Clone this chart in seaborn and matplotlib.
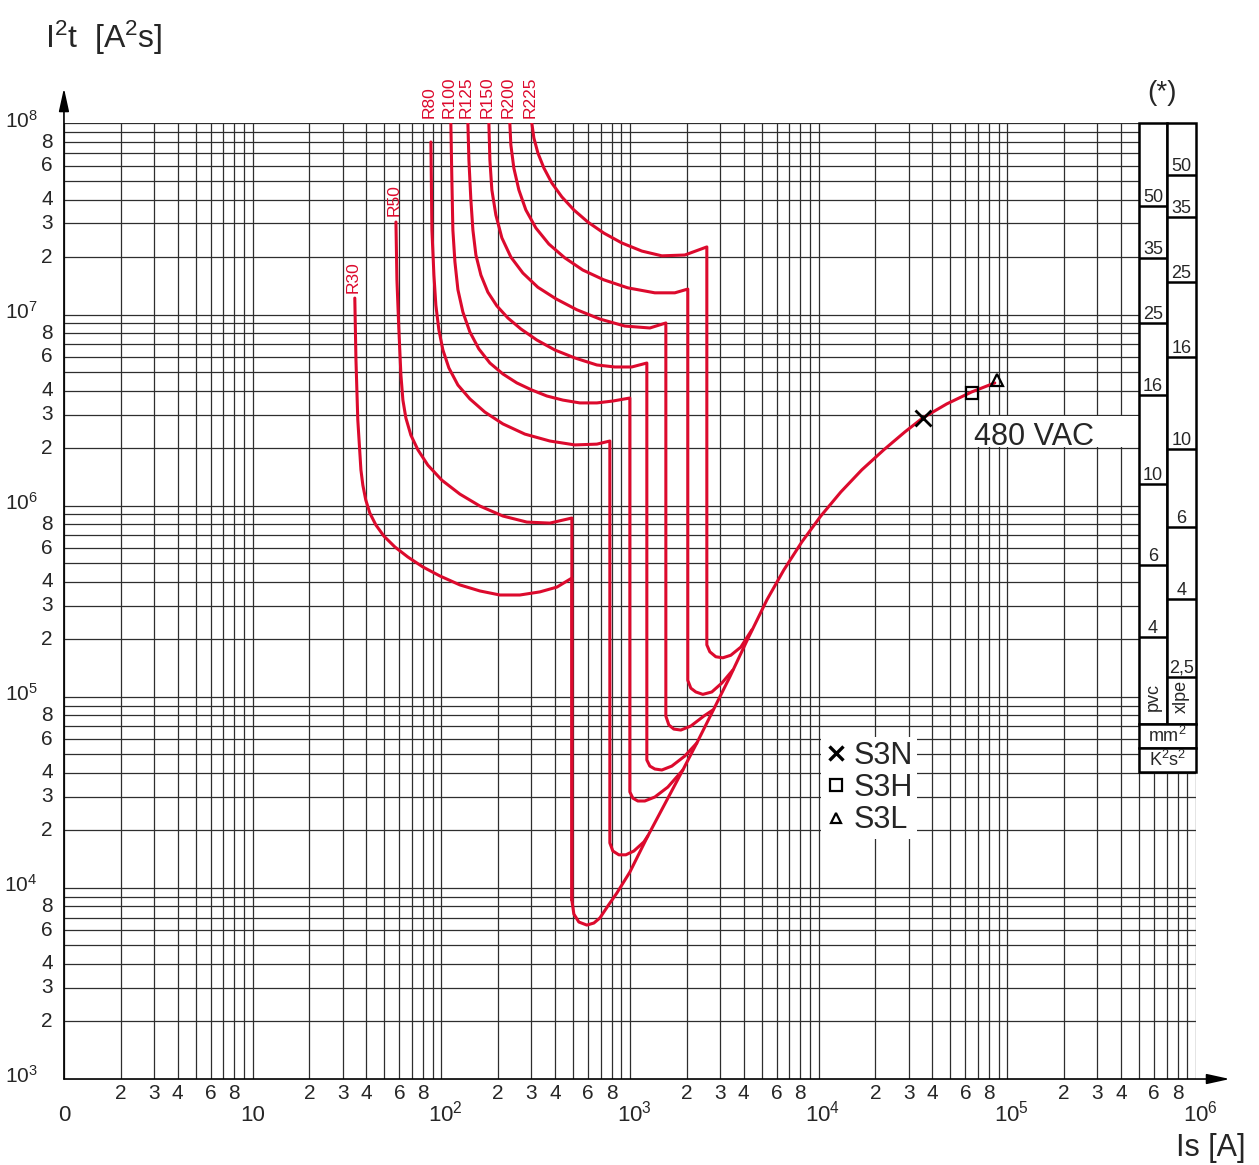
import matplotlib
matplotlib.use("Agg")
import matplotlib.pyplot as plt
from matplotlib.lines import Line2D
from matplotlib.patches import Rectangle
from matplotlib.ticker import LogLocator, NullFormatter
import numpy as np
import pandas as pd
import seaborn as sns

r30_x = [34.8, 35.3, 36.1, 37.5, 38.4, 39.8, 41.8, 45.0, 49.6, 56.8, 66.5, 79.9, 98.3, 125.5, 160.2, 204.4,
         261.0, 333.1, 410.0, 492.1, 492.1]
r30_y = [1.22e7, 5.79e6, 2.81e6, 1.54e6, 1.28e6, 1.07e6, 9.16e5, 7.93e5, 6.94e5, 6.08e5, 5.39e5, 4.78e5, 4.29e5,
         3.85e5, 3.58e5, 3.41e5, 3.41e5, 3.54e5, 3.75e5, 4.18e5, 8.65e3]

r50_x = [57.5, 58.2, 59.6, 61.1, 62.6, 64.9, 69.0, 75.2, 84.9, 100.7, 125.5, 160.2, 212.1, 284.2, 376.3, 492.1, 492.1]
r50_y = [3.05e7, 1.52e7, 8.31e6, 4.83e6, 3.57e6, 2.88e6, 2.34e6, 1.96e6, 1.63e6, 1.36e6, 1.15e6, 9.96e5, 8.83e5,
         8.21e5, 8.11e5, 8.62e5, 8.65e3]

r80_x = [88.1, 89.2, 91.4, 93.6, 97.1, 102.0, 109.7, 122.5, 141.8, 170.2, 212.1, 277.3, 376.3, 510.5, 667.9, 782.5,
         782.5, 811.7, 873.5, 951.3, 1049, 1185, 1244]
r80_y = [8.00e7, 2.77e7, 1.61e7, 1.12e7, 8.31e6, 6.53e6, 5.26e6, 4.28e6, 3.62e6, 3.09e6, 2.68e6, 2.37e6, 2.18e6,
         2.08e6, 2.10e6, 2.18e6, 1.72e4, 1.56e4, 1.49e4, 1.49e4, 1.56e4, 1.74e4, 1.87e4]

r100_x = [112.4, 113.8, 115.2, 118.1, 122.5, 130.2, 141.8, 158.2, 181.0, 212.1, 251.5, 302.1, 362.8, 441.0, 542.7,
          667.9, 811.7, 998.8, 998.8, 1036, 1101, 1199, 1355, 1588, 1907]
r100_y = [1.0e8, 5.06e7, 2.77e7, 1.89e7, 1.35e7, 1.03e7, 8.11e6, 6.61e6, 5.58e6, 4.89e6, 4.39e6, 4.03e6, 3.75e6,
          3.57e6, 3.45e6, 3.45e6, 3.53e6, 3.66e6, 3.18e4, 2.95e4, 2.85e4, 2.85e4, 2.99e4, 3.37e4, 4.14e4]

r125_x = [138.4, 140.1, 143.5, 147.1, 152.6, 162.2, 176.6, 197.1, 225.4, 264.2, 321.1, 399.9, 510.5, 667.9, 831.8,
          1023, 1229, 1229, 1275, 1355, 1476, 1667, 1954, 2262]
r125_y = [1.0e8, 6.44e7, 3.98e7, 2.77e7, 2.05e7, 1.61e7, 1.31e7, 1.11e7, 9.60e6, 8.41e6, 7.36e6, 6.53e6, 5.93e6,
          5.45e6, 5.32e6, 5.32e6, 5.58e6, 4.67e4, 4.34e4, 4.19e4, 4.14e4, 4.34e4, 4.90e4, 5.73e4]

r150_x = [178.8, 181.0, 185.4, 194.7, 209.5, 233.8, 270.7, 325.1, 404.9, 523.1, 692.7, 939.7, 1275, 1550,
          1550, 1608, 1708, 1861, 2102, 2464, 2750]
r150_y = [1.0e8, 6.44e7, 4.49e7, 3.32e7, 2.52e7, 2.00e7, 1.65e7, 1.39e7, 1.21e7, 1.06e7, 9.48e6, 8.71e6, 8.51e6,
          9.04e6, 7.93e4, 7.12e4, 6.78e4, 6.70e4, 7.03e4, 7.93e4, 8.53e4]

r200_x = [230.9, 233.8, 242.4, 257.8, 280.7, 317.2, 371.7, 451.9, 562.9, 727.3, 974.8, 1355, 1730, 2026,
          2026, 2102, 2235, 2434, 2716, 3069, 3510]
r200_y = [1.0e8, 7.72e7, 5.85e7, 4.49e7, 3.53e7, 2.84e7, 2.34e7, 1.98e7, 1.71e7, 1.52e7, 1.38e7, 1.30e7, 1.30e7,
          1.36e7, 1.22e5, 1.11e5, 1.06e5, 1.03e5, 1.06e5, 1.18e5, 1.38e5]

r225_x = [302.1, 309.6, 325.1, 349.8, 385.5, 435.6, 504.3, 598.3, 727.3, 906.0, 1156, 1476, 1954, 2556,
          2556, 2651, 2852, 3107, 3425, 3870, 4426]
r225_y = [1.0e8, 8.40e7, 7.01e7, 5.85e7, 4.88e7, 4.13e7, 3.53e7, 3.05e7, 2.67e7, 2.37e7, 2.15e7, 2.03e7, 2.05e7,
          2.26e7, 1.87e5, 1.72e5, 1.62e5, 1.60e5, 1.65e5, 1.82e5, 2.24e5]

# S3 let-through curve at 480 VAC
vac_x = [492.1, 504.3, 536.0, 591.0, 643.9, 692.7, 763.6, 852.2, 998.8, 1244, 1569, 1907, 2262, 2750, 3383, 4164,
         5316, 6540, 8147, 10270, 13120, 16940, 22150, 28630, 35660, 47800, 64850, 85870]
vac_y = [8.65e3, 7.30e3, 6.63e3, 6.39e3, 6.55e3, 6.96e3, 8.04e3, 9.40e3, 1.21e4, 1.87e4, 2.88e4, 4.14e4, 5.73e4,
         8.43e4, 1.27e5, 1.96e5, 3.21e5, 4.61e5, 6.46e5, 8.83e5, 1.18e6, 1.54e6, 1.96e6, 2.43e6, 2.88e6, 3.41e6,
         3.94e6, 4.39e6]

# breaking capacity points
brk_names = ['S3N', 'S3H', 'S3L']
brk_x = [35660, 64850, 88000]
brk_y = [2.88e6, 3.89e6, 4.55e6]

# cable table (*) : K2S2 limits
pvc_sizes = ['50', '35', '25', '16', '10', '6', '4']
pvc_k2s2 = [3.70e7, 1.98e7, 9.04e6, 3.80e6, 1.30e6, 4.89e5, 2.06e5]
xlpe_sizes = ['50', '35', '25', '16', '10', '6', '4', '2,5']
xlpe_k2s2 = [5.38e7, 3.24e7, 1.48e7, 6.00e6, 1.98e6, 7.73e5, 3.25e5, 1.27e5]

curves = {'R30': (r30_x, r30_y), 'R50': (r50_x, r50_y), 'R80': (r80_x, r80_y),
          'R100': (r100_x, r100_y), 'R125': (r125_x, r125_y), 'R150': (r150_x, r150_y),
          'R200': (r200_x, r200_y), 'R225': (r225_x, r225_y), '480VAC': (vac_x, vac_y)}

sns.set_style("white")
plt.rcParams['font.family'] = ['Liberation Sans', 'DejaVu Sans']
plt.rcParams['mathtext.fontset'] = 'custom'
plt.rcParams['mathtext.rm'] = 'Liberation Sans'
plt.rcParams['mathtext.it'] = 'Liberation Sans:italic'
plt.rcParams['mathtext.bf'] = 'Liberation Sans:bold'

RED = '#DC0A2D'
GRID = '#2e2e2e'

fig = plt.figure(figsize=(12.59, 11.65), dpi=100)
ax = fig.add_axes([0.0508, 0.0738, 0.8991, 0.8202])
ax.set_xscale('log')
ax.set_yscale('log')
ax.set_xlim(1, 1e6)
ax.set_ylim(1e3, 1e8)

for axis in (ax.xaxis, ax.yaxis):
    axis.set_major_locator(LogLocator(base=10, numticks=20))
    axis.set_minor_locator(LogLocator(base=10, subs=np.arange(2, 10), numticks=200))
    axis.set_major_formatter(NullFormatter())
    axis.set_minor_formatter(NullFormatter())
ax.grid(True, which='both', color=GRID, lw=0.9)
ax.set_axisbelow(True)
ax.tick_params(which='minor', length=0)
ax.tick_params(axis='x', which='major', length=11, width=1, direction='out', color='black')
ax.tick_params(axis='y', which='major', length=10, width=1, direction='out', color='black')
for s in ax.spines.values():
    s.set_visible(False)

# axes with arrows
arrow = dict(arrowstyle='-|>,head_length=1.0,head_width=0.22', color='black', lw=1.2,
             mutation_scale=14, shrinkA=0, shrinkB=0)
ax.annotate('', xy=(0, 1.037), xytext=(0, 0), xycoords='axes fraction', arrowprops=arrow, annotation_clip=False)
ax.annotate('', xy=(1.030, 0), xytext=(0, 0), xycoords='axes fraction', arrowprops=arrow, annotation_clip=False)

# tick labels
for e in range(0, 7):
    if e == 0:
        lbl, dx = '0', 0
    elif e == 1:
        lbl, dx = '10', 0
    else:
        lbl, dx = r'$\mathregular{10^{%d}}$' % e, 3
    ax.annotate(lbl, xy=(10 ** e, -0.044), xycoords=('data', 'axes fraction'), xytext=(dx, 0),
                textcoords='offset points', ha='center', va='baseline', fontsize=16, annotation_clip=False)
    if e < 6:
        for m in [2, 3, 4, 6, 8]:
            ax.annotate(str(m), xy=(m * 10 ** e, -0.021), xycoords=('data', 'axes fraction'),
                        ha='center', va='baseline', fontsize=15, annotation_clip=False)

for e in range(3, 9):
    ax.annotate(r'$\mathregular{10^{%d}}$' % e, xy=(0, 10 ** e), xycoords=('axes fraction', 'data'),
                xytext=(-19, -3), textcoords='offset points', ha='right', va='baseline', fontsize=15,
                annotation_clip=False)
    if e < 8:
        for m in [2, 3, 4, 6, 8]:
            ax.annotate(str(m), xy=(0, m * 10 ** e), xycoords=('axes fraction', 'data'), xytext=(-8, 0),
                        textcoords='offset points', ha='right', va='center', fontsize=15, annotation_clip=False)

# red curves
frames = []
for name, (xs, ys) in curves.items():
    frames.append(pd.DataFrame({'curve': name, 'Is': xs, 'I2t': ys}))
df = pd.concat(frames, ignore_index=True)
sns.lineplot(data=df, x='Is', y='I2t', units='curve', estimator=None, sort=False,
             color=RED, lw=2.2, ax=ax, legend=False)
for ln in ax.lines:
    ln.set_solid_joinstyle('round')
    ln.set_zorder(3)
ax.set_xlabel('')
ax.set_ylabel('')

for name, (xs, ys) in curves.items():
    if not name.startswith('R'):
        continue
    ytop = ys[0] if ys[0] < 5e7 else 1e8
    ax.annotate(name, xy=(xs[0], ytop), xytext=(-1, 4), textcoords='offset points', rotation=90,
                ha='center', va='bottom', color=RED, fontsize=12.5, annotation_clip=False)

# breaking capacity markers
mk = {'S3N': dict(marker='x', ms=12, mew=2.0), 'S3H': dict(marker='s', ms=9, mew=1.6),
      'S3L': dict(marker='^', ms=8, mew=1.6)}
for n, x, y in zip(brk_names, brk_x, brk_y):
    ax.plot([x], [y], ls='none', color='black', mfc='none', zorder=6, **mk[n])

# 480 VAC label
ax.add_patch(Rectangle((6.1e4, 2.04e6), 5e5 - 6.1e4, 2.95e6 - 2.04e6, fc='white', ec='none', zorder=2))
ax.text(6.7e4, 2.08e6, '480 VAC', fontsize=22, ha='left', va='baseline', zorder=4)

# legend
lmk = {'S3N': dict(marker='x', ms=10, mew=2.4), 'S3H': dict(marker='s', ms=8, mew=1.6),
       'S3L': dict(marker='^', ms=7, mew=1.6)}
handles = [Line2D([], [], ls='none', color='black', mfc='none', **lmk[n]) for n in brk_names]
ax.legend(handles, brk_names, loc='upper left', bbox_to_anchor=(0.6690, 0.358), fontsize=22,
          frameon=True, fancybox=False, framealpha=1, facecolor='white', edgecolor='none',
          handlelength=0.7, handletextpad=0.25, labelspacing=0.08, borderpad=0.12, borderaxespad=0)

# cable table
x0, x1, x2 = 5e5, 7e5, 1e6
ytop, ymid, yrow, ybot = 1e8, 7.21e4, 5.40e4, 4.04e4
lwt = 1.8
for (xa, xb) in [(x0, x1), (x1, x2)]:
    ax.add_patch(Rectangle((xa, ymid), xb - xa, ytop - ymid, fc='white', ec='black', lw=lwt, zorder=4, clip_on=False))
ax.add_patch(Rectangle((x0, yrow), x2 - x0, ymid - yrow, fc='white', ec='black', lw=lwt, zorder=4, clip_on=False))
ax.add_patch(Rectangle((x0, ybot), x2 - x0, yrow - ybot, fc='white', ec='black', lw=lwt, zorder=4, clip_on=False))
cpvc = np.sqrt(x0 * x1)
cxl = np.sqrt(x1 * x2)
ax.hlines(pvc_k2s2, x0, x1, color='black', lw=lwt, zorder=5)
ax.hlines(xlpe_k2s2, x1, x2, color='black', lw=lwt, zorder=5)
for s, v in zip(pvc_sizes, pvc_k2s2):
    ax.annotate(s, xy=(cpvc, v), xytext=(0, 3), textcoords='offset points', ha='center', va='baseline',
                fontsize=13, zorder=6)
for s, v in zip(xlpe_sizes, xlpe_k2s2):
    ax.annotate(s, xy=(cxl, v), xytext=(0, 3), textcoords='offset points', ha='center', va='baseline',
                fontsize=13, zorder=6)
ax.text(cpvc, 1.0e5, 'pvc', rotation=90, ha='center', va='center', fontsize=13, zorder=6)
ax.text(cxl, 1.0e5, 'xlpe', rotation=90, ha='center', va='center', fontsize=13, zorder=6)
ax.text(np.sqrt(x0 * x2), np.sqrt(ymid * yrow), r'$\mathregular{mm^2}$', ha='center', va='center',
        fontsize=13, zorder=6)
ax.text(np.sqrt(x0 * x2), np.sqrt(yrow * ybot), r'$\mathregular{K^2s^2}$', ha='center', va='center',
        fontsize=13, zorder=6)

# titles
fig.text(0.923, 0.920, '(*)', ha='center', va='center', fontsize=20)
fig.text(0.036, 0.959, r'$\mathregular{I^2t\ \ [A^2s]}$', ha='left', va='baseline', fontsize=23)
fig.text(0.989, 0.008, 'Is [A]', ha='right', va='baseline', fontsize=22)

fig.savefig('out.png', dpi=100)
